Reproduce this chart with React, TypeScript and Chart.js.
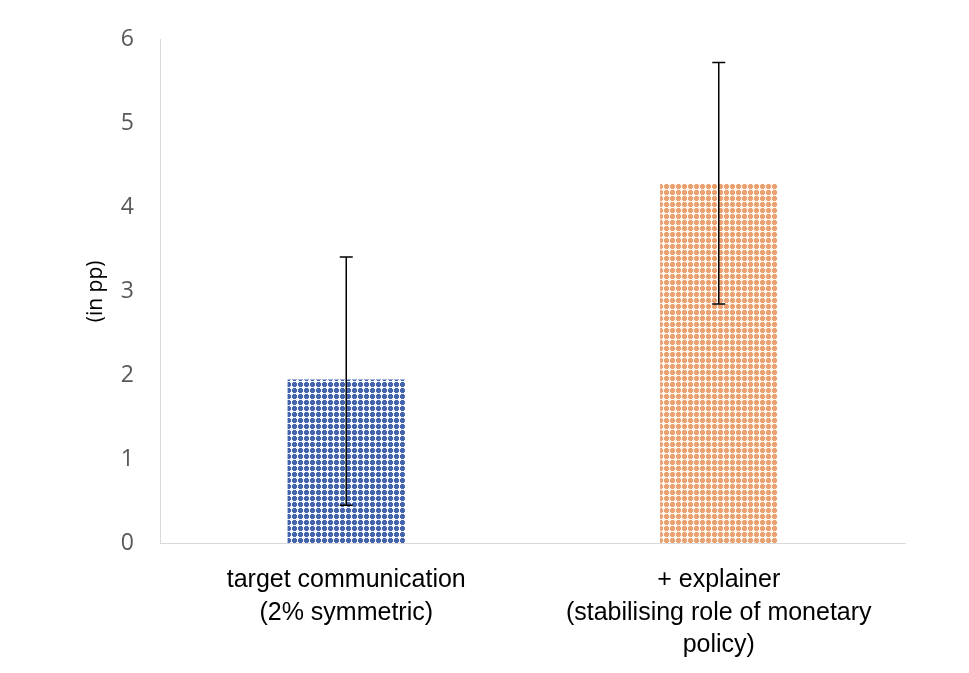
import React, { useEffect, useRef } from "react";
import { Chart, registerables } from "chart.js";

Chart.register(...registerables);

const categories: string[][] = [
  ["target communication", "(2% symmetric)"],
  ["+ explainer", "(stabilising role of monetary", "policy)"],
];
const values: number[] = [1.95, 4.28];
const errLow: number[] = [0.45, 2.85];
const errHigh: number[] = [3.41, 5.73];
const yTicks: number[] = [0, 1, 2, 3, 4, 5, 6];
const fgColors: string[] = ["#4464ac", "#eaa273"];
const bgColors: string[] = ["#f4f7ff", "#fff6ee"];

function makePattern(color: string, bg: string): CanvasPattern | string {
  const n = 6;
  const c = document.createElement("canvas");
  c.width = n;
  c.height = n;
  const ctx = c.getContext("2d");
  if (!ctx) return color;
  ctx.fillStyle = color;
  ctx.fillRect(0, 0, n, n);
  ctx.fillStyle = bg;
  for (let y = 0; y < n; y++) {
    for (let x = 0; x < n; x++) {
      const dx = Math.abs(x - 3);
      const dy = Math.abs(y - 3);
      const inPlus = (dx === 0 && dy <= 3) || (dy === 0 && dx <= 3);
      const inDiag = dx === 1 && dy === 1;
      if (inPlus || inDiag) ctx.fillRect(x, y, 1, 1);
    }
  }
  const p = ctx.createPattern(c, "repeat");
  return p || color;
}

const errorBarPlugin = {
  id: "errorBars",
  afterDatasetsDraw(chart: any) {
    const ctx = chart.ctx;
    const meta = chart.getDatasetMeta(0);
    const yScale = chart.scales.y;
    ctx.save();
    ctx.strokeStyle = "#000000";
    ctx.lineWidth = 1.5;
    meta.data.forEach((bar: any, i: number) => {
      const x = bar.x;
      const yTop = yScale.getPixelForValue(errHigh[i]);
      const yBot = yScale.getPixelForValue(errLow[i]);
      const cap = 6.5;
      ctx.beginPath();
      ctx.moveTo(x, yTop);
      ctx.lineTo(x, yBot);
      ctx.moveTo(x - cap, yTop);
      ctx.lineTo(x + cap, yTop);
      ctx.moveTo(x - cap, yBot);
      ctx.lineTo(x + cap, yBot);
      ctx.stroke();
    });
    ctx.restore();
  },
};

export default function App() {
  const canvasRef = useRef<HTMLCanvasElement | null>(null);

  useEffect(() => {
    document.body.style.margin = "0";
    const canvas = canvasRef.current;
    if (!canvas) return;
    const chart = new Chart(canvas, {
      type: "bar",
      data: {
        labels: categories as any,
        datasets: [
          {
            data: values,
            backgroundColor: fgColors.map((c, i) => makePattern(c, bgColors[i])) as any,
            borderWidth: 0,
            categoryPercentage: 1,
            barPercentage: 0.315,
          },
        ],
      },
      options: {
        animation: false,
        responsive: false,
        maintainAspectRatio: false,
        layout: { padding: { left: 0, right: 64, top: 36, bottom: 0 } },
        plugins: {
          legend: { display: false },
          tooltip: { enabled: false },
        },
        scales: {
          x: {
            grid: { display: false, drawTicks: false },
            border: { display: true, color: "#d9d9d9", width: 1 },
            ticks: {
              color: "#000000",
              font: { family: "'Liberation Sans', Arial, sans-serif", size: 25, lineHeight: 1.3 },
              padding: 21,
              maxRotation: 0,
              autoSkip: false,
            },
            afterFit: (scale: any) => {
              scale.height = 130;
            },
          },
          y: {
            min: 0,
            max: 6,
            afterBuildTicks: (scale: any) => {
              scale.ticks = yTicks.map((v) => ({ value: v }));
            },
            grid: { display: false, drawTicks: false },
            border: { display: true, color: "#d9d9d9", width: 1 },
            ticks: {
              color: "#595959",
              font: { family: "'Open Sans', 'Liberation Sans', sans-serif", size: 23 },
              padding: 26,
            },
            title: {
              display: true,
              text: "(in pp)",
              color: "#000000",
              font: { family: "'Open Sans', 'Liberation Sans', sans-serif", size: 21 },
              padding: { top: 83, bottom: 0 },
            },
            afterFit: (scale: any) => {
              scale.width = 160;
            },
          },
        },
      },
      plugins: [errorBarPlugin],
    });
    return () => chart.destroy();
  }, []);

  return (
    <div style={{ width: 969, height: 673 }}>
      <canvas ref={canvasRef} width={969} height={673} style={{ display: "block" }} />
    </div>
  );
}
